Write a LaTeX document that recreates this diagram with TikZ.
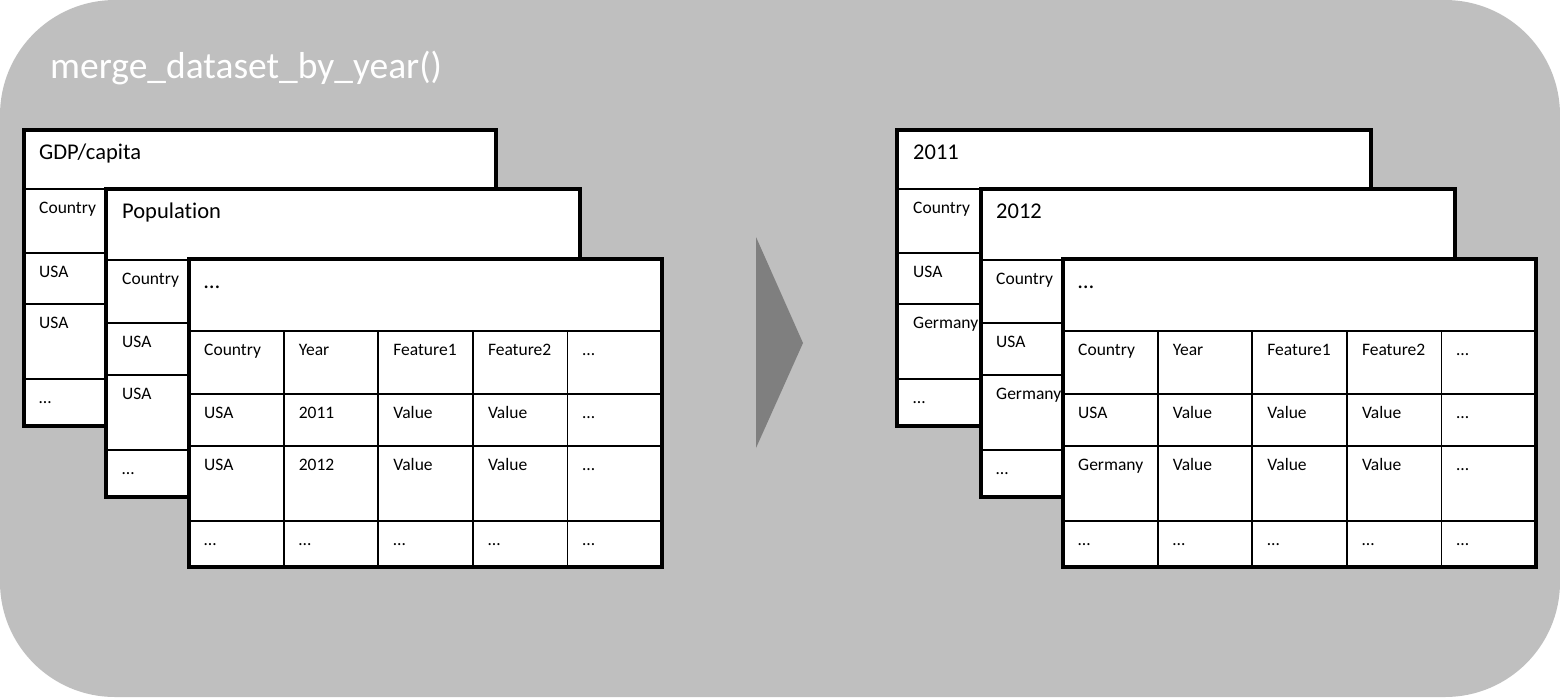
\documentclass[tikz,border=0pt]{standalone}
\usepackage{fontspec}
\setmainfont[RawFeature={-liga}]{Carlito}
\definecolor{bgray}{HTML}{BFBFBF}
\definecolor{agray}{HTML}{7F7F7F}
\tikzset{
  bgbox/.style={fill=bgray, rounded corners=115pt},
  tfill/.style={fill=white},
  tframe/.style={draw=black, line width=3.5pt},
  tline/.style={draw=black, line width=1.8pt},
  cell/.style={anchor=base west, inner sep=0pt, font=\fontsize{17.5}{20}\selectfont},
  ttl/.style={anchor=base west, inner sep=0pt, font=\fontsize{22.5}{26}\selectfont},
  mtitle/.style={anchor=base west, inner sep=0pt, text=white, font=\fontsize{37.5}{42}\selectfont},
  arrowtri/.style={fill=agray}
}
\begin{document}
\begin{tikzpicture}[x=1pt,y=-1pt]
\useasboundingbox (0,0) rectangle (1560,697);
\fill[white] (0,0) rectangle (1560,697);
\path[bgbox] (0,0) rectangle (1560,697);
\node[mtitle] (title) at (50,78) {merge\_dataset\_by\_year()};

% ---------- LEFT STACK ----------
% table 1
\path[tfill] (24,130) rectangle (496,426);
\draw[tline] (24,189) -- (496,189) (24,253) -- (496,253) (24,304) -- (496,304) (24,379) -- (496,379);
\draw[tframe] (24,130) rectangle (496,426);
\node[ttl] (L1t) at (39,159) {GDP/capita};
\node[cell] (L1a) at (39,213) {Country};
\node[cell] (L1b) at (39,277) {USA};
\node[cell] (L1c) at (39,328) {USA};
\node[cell] (L1d) at (39,403) {…};
% table 2
\path[tfill] (106,189) rectangle (580,497);
\draw[tline] (106,260) -- (580,260) (106,323) -- (580,323) (106,375) -- (580,375) (106,450) -- (580,450);
\draw[tframe] (106,189) rectangle (580,497);
\node[ttl] (L2t) at (122,218) {Population};
\node[cell] (L2a) at (122,284) {Country};
\node[cell] (L2b) at (122,347) {USA};
\node[cell] (L2c) at (122,399) {USA};
\node[cell] (L2d) at (122,474) {…};
% table 3
\path[tfill] (189,259) rectangle (662,567);
\draw[tline] (189,331) -- (662,331) (189,394) -- (662,394) (189,446) -- (662,446) (189,521) -- (662,521);
\foreach \k in {1,2,3,4} { \draw[tline] (189+94.6*\k,331) -- (189+94.6*\k,567); }
\draw[tframe] (189,259) rectangle (662,567);
\node[ttl] (L3t) at (204,288) {…};
\foreach \h/\a/\b [count=\i from 0] in {Country/USA/USA, Year/2011/2012, Feature1/Value/Value, Feature2/Value/Value, …/…/…} {
  \node[cell] (L3h\i) at (204+94.6*\i,355) {\h};
  \node[cell] (L3a\i) at (204+94.6*\i,418) {\a};
  \node[cell] (L3b\i) at (204+94.6*\i,470) {\b};
  \node[cell] (L3d\i) at (204+94.6*\i,545) {…};
}

% ---------- ARROW ----------
\fill[arrowtri] (756,237) -- (803,343) -- (756,448) -- cycle;

% ---------- RIGHT STACK ----------
% table 1
\path[tfill] (897,130) rectangle (1371,426);
\draw[tline] (897,189) -- (1371,189) (897,253) -- (1371,253) (897,304) -- (1371,304) (897,379) -- (1371,379);
\draw[tframe] (897,130) rectangle (1371,426);
\node[ttl] (R1t) at (913,159) {2011};
\node[cell] (R1a) at (913,213) {Country};
\node[cell] (R1b) at (913,277) {USA};
\node[cell] (R1c) at (913,328) {Germany};
\node[cell] (R1d) at (913,403) {…};
% table 2
\path[tfill] (981,189) rectangle (1455,497);
\draw[tline] (981,260) -- (1455,260) (981,323) -- (1455,323) (981,375) -- (1455,375) (981,450) -- (1455,450);
\draw[tframe] (981,189) rectangle (1455,497);
\node[ttl] (R2t) at (996,218) {2012};
\node[cell] (R2a) at (996,284) {Country};
\node[cell] (R2b) at (996,347) {USA};
\node[cell] (R2c) at (996,399) {Germany};
\node[cell] (R2d) at (996,474) {…};
% table 3
\path[tfill] (1063,259) rectangle (1536,567);
\draw[tline] (1063,331) -- (1536,331) (1063,394) -- (1536,394) (1063,446) -- (1536,446) (1063,521) -- (1536,521);
\foreach \k in {1,2,3,4} { \draw[tline] (1063+94.6*\k,331) -- (1063+94.6*\k,567); }
\draw[tframe] (1063,259) rectangle (1536,567);
\node[ttl] (R3t) at (1078,288) {…};
\foreach \h/\a/\b [count=\i from 0] in {Country/USA/Germany, Year/Value/Value, Feature1/Value/Value, Feature2/Value/Value, …/…/…} {
  \node[cell] (R3h\i) at (1078+94.6*\i,355) {\h};
  \node[cell] (R3a\i) at (1078+94.6*\i,418) {\a};
  \node[cell] (R3b\i) at (1078+94.6*\i,470) {\b};
  \node[cell] (R3d\i) at (1078+94.6*\i,545) {…};
}
\end{tikzpicture}
\end{document}
